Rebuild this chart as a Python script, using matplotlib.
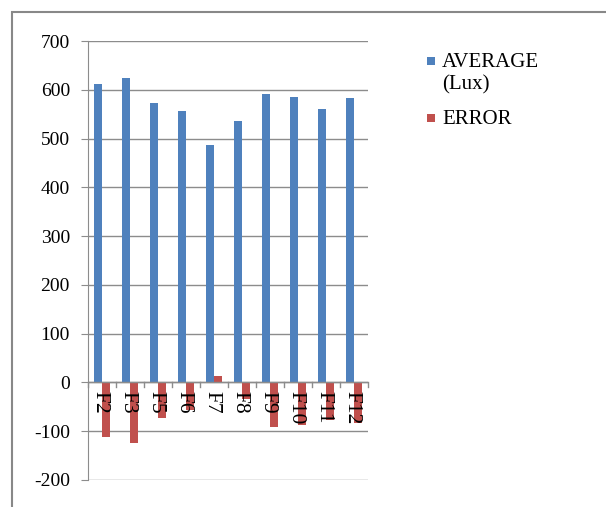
import matplotlib.pyplot as plt
import numpy as np
from matplotlib.patches import Rectangle

categories = ["F2", "F3", "F5", "F6", "F7", "F8", "F9", "F10", "F11", "F12"]
average_lux = [611, 625, 573, 556, 486, 535, 591, 586, 560, 583]
error = [-111, -124, -72, -56, 14, -33, -91, -88, -78, -83]
y_ticks = [-200, -100, 0, 100, 200, 300, 400, 500, 600, 700]
legend_labels = ["AVERAGE\n(Lux)", "ERROR"]

BLUE = "#4F81BD"
RED = "#C0504D"
GRID = "#8C8C8C"

plt.rcParams["font.family"] = ["Liberation Serif", "DejaVu Serif"]

W, H = 606, 507
fig = plt.figure(figsize=(W / 100, H / 100), dpi=100)
fig.patch.set_facecolor("white")

# outer chart frame
fig.patches.append(Rectangle((12 / W, -0.02), 1.0, 1 - 12 / H + 0.02,
                             transform=fig.transFigure, fill=False,
                             edgecolor="#888888", linewidth=1.5))

ax = fig.add_axes([88 / W, 1 - 480 / H, (368 - 88) / W, (480 - 41) / H])

x = np.arange(len(categories))
w = 0.3
ax.bar(x - w / 2, average_lux, width=w, color=BLUE, zorder=3)
ax.bar(x + w / 2, error, width=w, color=RED, zorder=3)

ax.set_xlim(-0.5, len(categories) - 0.5)
ax.set_ylim(-200, 700)
ax.set_yticks(y_ticks)
ax.set_yticklabels([str(v) for v in y_ticks], fontsize=14)
ax.yaxis.grid(True, color=GRID, linewidth=1, zorder=0)
ax.set_axisbelow(True)

for side in ["top", "right", "bottom"]:
    ax.spines[side].set_visible(False)
ax.spines["left"].set_color(GRID)
ax.tick_params(axis="y", length=5, color=GRID, pad=8)

# category axis along zero, with tick marks between categories
ax.axhline(0, color=GRID, linewidth=1, zorder=4)
ax.set_xticks([])
for b in np.arange(-0.5, len(categories) + 0.5, 1.0):
    ax.plot([b, b], [0, -9], color=GRID, linewidth=1, zorder=4, clip_on=False)
for xi, name in zip(x, categories):
    ax.annotate(name, xy=(xi - 0.06, 0), xytext=(0, -6.5), textcoords="offset points",
                rotation=270, ha="center", va="top", fontsize=15.5, zorder=5)

# legend drawn as squares and labels to the right of the plot
legend_colors = [BLUE, RED]
legend_rows = [61, 118]
for color, label, yc in zip(legend_colors, legend_labels, legend_rows):
    fig.patches.append(Rectangle((427 / W, 1 - (yc + 4) / H), 8 / W, 8 / H,
                                 transform=fig.transFigure, facecolor=color,
                                 edgecolor="none"))
    fig.text(442 / W, 1 - (yc - 8) / H, label, ha="left", va="top",
             fontsize=15, linespacing=1.2)

fig.savefig("out.png", dpi=100, facecolor="white")
